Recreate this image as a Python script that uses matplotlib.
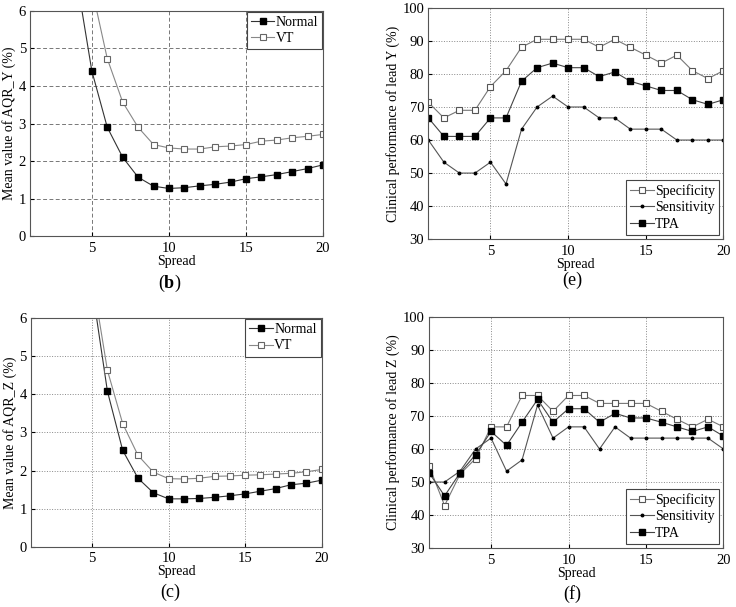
"""Four panels: AQR mean values (b, c) and clinical performance (e, f) vs spread."""

import matplotlib

matplotlib.use("Agg")
import matplotlib.pyplot as plt
import numpy as np

# ---- data -------------------------------------------------------------
# (b) mean AQR_Y, x = 4..20 for Normal, 5..20 for VT (first points run off the top)
spread_b_normal = np.arange(4, 21)
aqr_y_normal = [6.9, 4.4, 2.9, 2.1, 1.57, 1.33, 1.27, 1.29, 1.34, 1.38, 1.44,
                1.53, 1.58, 1.64, 1.72, 1.80, 1.90]
spread_b_vt = np.arange(5, 21)
aqr_y_vt = [6.6, 4.73, 3.57, 2.90, 2.44, 2.35, 2.32, 2.32, 2.38, 2.40, 2.44,
            2.53, 2.56, 2.62, 2.66, 2.71]

# (c) mean AQR_Z, x = 5..20
spread_c = np.arange(5, 21)
aqr_z_normal = [6.8, 4.08, 2.53, 1.80, 1.42, 1.26, 1.26, 1.27, 1.30, 1.34,
                1.39, 1.46, 1.53, 1.63, 1.67, 1.75]
aqr_z_vt = [7.1, 4.63, 3.23, 2.40, 1.96, 1.79, 1.78, 1.80, 1.85, 1.86, 1.88,
            1.89, 1.91, 1.93, 1.97, 2.03]

# (e) clinical performance of lead Y, x = 1..20
spread = np.arange(1, 21)
spec_y = [71.4, 66.7, 69.0, 69.0, 76.2, 81.0, 88.1, 90.5, 90.5, 90.5, 90.5,
          88.1, 90.5, 88.1, 85.7, 83.3, 85.7, 81.0, 78.6, 81.0]
sens_y = [60.0, 53.3, 50.0, 50.0, 53.3, 46.7, 63.3, 70.0, 73.3, 70.0, 70.0,
          66.7, 66.7, 63.3, 63.3, 63.3, 60.0, 60.0, 60.0, 60.0]
tpa_y = [66.7, 61.1, 61.1, 61.1, 66.7, 66.7, 77.8, 81.9, 83.3, 81.9, 81.9,
         79.2, 80.6, 77.8, 76.4, 75.0, 75.0, 72.2, 70.8, 72.2]

# (f) clinical performance of lead Z, x = 1..20
spec_z = [54.8, 42.9, 52.4, 57.1, 66.7, 66.7, 76.2, 76.2, 71.4, 76.2, 76.2,
          73.8, 73.8, 73.8, 73.8, 71.4, 69.0, 66.7, 69.0, 66.7]
sens_z = [50.0, 50.0, 53.3, 60.0, 63.3, 53.3, 56.7, 73.3, 63.3, 66.7, 66.7,
          60.0, 66.7, 63.3, 63.3, 63.3, 63.3, 63.3, 63.3, 60.0]
tpa_z = [52.8, 45.8, 52.8, 58.3, 65.3, 61.1, 68.1, 75.0, 68.1, 72.2, 72.2,
         68.1, 70.8, 69.4, 69.4, 68.1, 66.7, 65.3, 66.7, 63.9]

# ---- style ------------------------------------------------------------
plt.rcParams.update({
    "font.family": ["Liberation Serif", "DejaVu Serif"],
    "font.size": 10,
    "xtick.labelsize": 10.5,
    "ytick.labelsize": 10.5,
    "mathtext.fontset": "custom",
    "mathtext.rm": "Liberation Serif",
    "mathtext.bf": "Liberation Serif:bold",
    "xtick.direction": "in",
    "ytick.direction": "in",
    "xtick.major.size": 3,
    "ytick.major.size": 3,
    "xtick.major.pad": 4,
    "ytick.major.pad": 3,
    "axes.linewidth": 0.8,
    "axes.edgecolor": "#555555",
    "legend.fancybox": False,
})

fig = plt.figure(figsize=(7.36, 6.07), dpi=100)

ax_b = fig.add_axes([0.041, 0.611, 0.398, 0.371])
ax_e = fig.add_axes([0.582, 0.606, 0.401, 0.381])
ax_c = fig.add_axes([0.042, 0.099, 0.395, 0.377])
ax_f = fig.add_axes([0.583, 0.097, 0.400, 0.381])


def style_legend(leg):
    leg.get_frame().set_edgecolor("#444444")
    leg.get_frame().set_linewidth(0.8)
    leg.get_frame().set_alpha(1)


def aqr_panel(ax, xn, yn, xv, yv, ylabel, dashed):
    ax.plot(xn, yn, color="#333333", lw=0.8, marker="s", ms=4,
            mfc="black", mec="black", label="Normal")
    ax.plot(xv, yv, color="#888888", lw=0.8, marker="s", ms=4,
            mfc="white", mec="#666666", mew=0.8, label="VT")
    ax.set_xlim(1, 20)
    ax.set_ylim(0, 6)
    ax.set_xticks([5, 10, 15, 20])
    ax.set_yticks(range(0, 7))
    if dashed:
        ax.grid(True, color="#777777", lw=0.7, ls=(0, (4, 2.5)))
    else:
        ax.grid(True, color="#888888", lw=0.7, ls=":")
    ax.set_axisbelow(True)
    ax.set_xlabel("Spread", labelpad=0)
    ax.set_ylabel("Mean value of " + ylabel + " (%)", labelpad=2)
    leg = ax.legend(loc="upper right", fontsize=10, handlelength=1.7,
                    borderaxespad=0.05, handletextpad=0.1, labelspacing=0.25,
                    borderpad=0.3)
    style_legend(leg)


def clinical_panel(ax, spec, sens, tpa, lead):
    ax.plot(spread, spec, color="#777777", lw=0.8, marker="s", ms=4.3,
            mfc="white", mec="#555555", mew=0.8, label="Specificity")
    ax.plot(spread, sens, color="#555555", lw=0.8, marker="o", ms=1.8,
            mfc="black", mec="black", label="Sensitivity")
    ax.plot(spread, tpa, color="#444444", lw=0.8, marker="s", ms=4.3,
            mfc="black", mec="black", label="TPA")
    ax.set_xlim(1, 20)
    ax.set_ylim(30, 100)
    ax.set_xticks([5, 10, 15, 20])
    ax.set_yticks(range(30, 101, 10))
    ax.grid(True, color="#888888", lw=0.7, ls=":")
    ax.set_axisbelow(True)
    ax.set_xlabel("Spread", labelpad=0)
    ax.set_ylabel("Clinical performance of lead " + lead + " (%)", labelpad=2)
    leg = ax.legend(loc="lower right", fontsize=10, handlelength=1.7,
                    borderaxespad=0.3, handletextpad=0.1, labelspacing=0.25,
                    borderpad=0.3)
    style_legend(leg)


aqr_panel(ax_b, spread_b_normal, aqr_y_normal, spread_b_vt, aqr_y_vt,
          "AQR_Y", dashed=True)
aqr_panel(ax_c, spread_c, aqr_z_normal, spread_c, aqr_z_vt,
          "AQR_Z", dashed=False)
clinical_panel(ax_e, spec_y, sens_y, tpa_y, "Y")
clinical_panel(ax_f, spec_z, sens_z, tpa_z, "Z")

# panel letters
fig.text(170 / 736, 1 - 283 / 607, r"($\mathbf{b}$)", ha="center", va="center",
         fontsize=13)
fig.text(572 / 736, 1 - 280 / 607, "(e)", ha="center", va="center", fontsize=13)
fig.text(170 / 736, 1 - 592 / 607, "(c)", ha="center", va="center", fontsize=13)
fig.text(572 / 736, 1 - 594 / 607, "(f)", ha="center", va="center", fontsize=13)

fig.savefig("out.png", dpi=100)
plt.close(fig)
